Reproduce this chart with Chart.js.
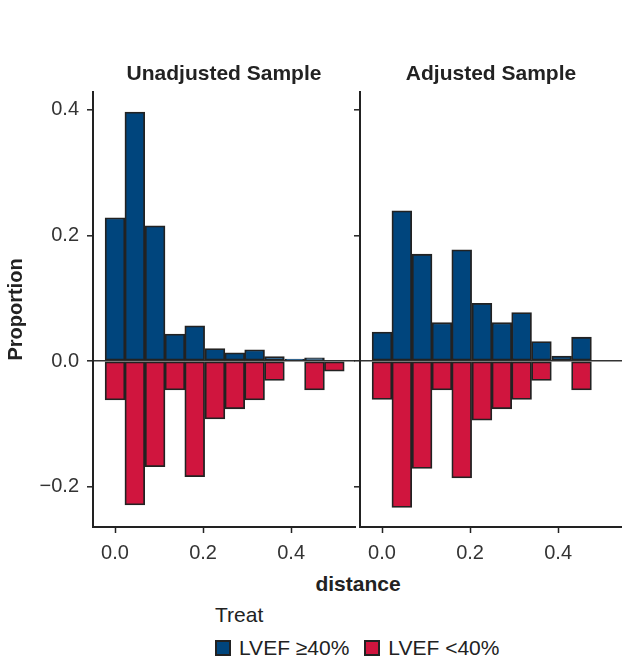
<!DOCTYPE html>
<html>
<head>
<meta charset="utf-8">
<script src="https://cdn.jsdelivr.net/npm/chart.js@4.4.1/dist/chart.umd.min.js"></script>
<style>
  html, body { margin: 0; padding: 0; background: #fff; }
  body { width: 622px; height: 659px; position: relative; overflow: hidden;
         font-family: "Liberation Sans", Arial, Helvetica, sans-serif; color: #222; }
  canvas { position: absolute; top: 0; }
  #c1 { left: 0; }
  #c2 { left: 350px; }
  .xtitle { position: absolute; left: 258px; width: 200px; top: 572px; text-align: center;
            font-weight: bold; font-size: 21px; color: #222; }
  .ltitle { position: absolute; left: 215px; top: 603px; font-size: 21px; color: #222; }
  .legend { position: absolute; left: 215px; top: 636px; font-size: 21px; color: #222;
            display: flex; align-items: center; white-space: nowrap; }
  .sw { display: inline-block; width: 16px; height: 16px; border: 2px solid #222; box-sizing: border-box; margin-right: 8px; }
  .item { display: flex; align-items: center; margin-right: 15px; }
</style>
</head>
<body>
<canvas id="c1" width="357" height="570"></canvas>
<canvas id="c2" width="272" height="570"></canvas>
<div class="xtitle">distance</div>
<div class="ltitle">Treat</div>
<div class="legend">
  <span class="item"><span class="sw" style="background:#00457D"></span>LVEF ≥40%</span>
  <span class="item"><span class="sw" style="background:#D0153E"></span>LVEF &lt;40%</span>
</div>
<script>
// ---- data ----
const panelTitles = ["Unadjusted Sample", "Adjusted Sample"];
const seriesNames = ["LVEF ≥40%", "LVEF <40%"];
const binCenters = [0.000, 0.045, 0.091, 0.136, 0.181, 0.227, 0.272, 0.317, 0.362, 0.408, 0.453, 0.498];

// Unadjusted sample
const unadjHigh = [0.228, 0.396, 0.215, 0.043, 0.056, 0.020, 0.013, 0.018, 0.007, 0.003, 0.005, 0.000];
const unadjLow  = [-0.062, -0.229, -0.168, -0.046, -0.184, -0.092, -0.076, -0.062, -0.031, 0.000, -0.046, -0.016];

// Adjusted sample
const adjHigh = [0.046, 0.239, 0.170, 0.061, 0.177, 0.092, 0.061, 0.077, 0.031, 0.008, 0.038];
const adjLow  = [-0.061, -0.233, -0.171, -0.046, -0.186, -0.094, -0.076, -0.061, -0.031, 0.000, -0.046];

const yTicks = [-0.2, 0.0, 0.2, 0.4];
const xTicks = [0.0, 0.2, 0.4];

// ---- styling ----
const BLUE = '#00457D', RED = '#D0153E', EDGE = '#222222', AXIS = '#222222', TXT = '#333333';
const FONT = "'Liberation Sans', Arial, Helvetica, sans-serif";
const X_MIN = -0.05, X_MAX = 0.545, Y_MIN = -0.264, Y_MAX = 0.428;

function pts(xs, ys) { return ys.map((v, i) => ({ x: xs[i], y: v })); }
function fmt(v) { return v.toFixed(1).replace('-', '\u2212'); }

function makeChart(id, title, hi, lo, showYLabels) {
  const ctx = document.getElementById(id);
  return new Chart(ctx, {
    type: 'bar',
    data: {
      datasets: [
        { label: seriesNames[0], data: pts(binCenters, hi), backgroundColor: BLUE, borderColor: EDGE,
          borderWidth: 1.8, borderSkipped: false, grouped: false, barPercentage: 1, categoryPercentage: 1 },
        { label: seriesNames[1], data: pts(binCenters, lo), backgroundColor: RED, borderColor: EDGE,
          borderWidth: 1.8, borderSkipped: false, grouped: false, barPercentage: 1, categoryPercentage: 1 }
      ]
    },
    options: {
      responsive: false,
      animation: false,
      devicePixelRatio: 1,
      layout: { padding: { left: 0, right: showYLabels ? 2 : 0, top: 0, bottom: 0 } },
      plugins: { legend: { display: false }, tooltip: { enabled: false }, title: { display: false } },
      scales: {
        x: {
          type: 'linear', position: 'bottom', min: X_MIN, max: X_MAX, offset: false,
          afterBuildTicks: (s) => { s.ticks = xTicks.map(v => ({ value: v })); },
          afterFit: (s) => { s.height = 43; },
          grid: { display: true, drawOnChartArea: false, drawTicks: true, tickLength: 6,
                  tickColor: AXIS, tickWidth: 1.5, offset: false },
          border: { display: true, color: AXIS, width: 2 },
          ticks: { color: TXT, font: { family: FONT, size: 20 }, padding: 8, maxRotation: 0,
                   callback: (v) => fmt(v) }
        },
        xTop: {
          type: 'linear', position: 'top', min: 0, max: 1,
          afterFit: (s) => { s.height = 92; },
          grid: { display: false }, border: { display: false },
          ticks: { display: false },
          title: { display: true, text: title, color: '#222', font: { family: FONT, size: 21, weight: 'bold' },
                   padding: { top: 62, bottom: 0 } }
        },
        y: {
          type: 'linear', position: 'left', min: Y_MIN, max: Y_MAX,
          afterBuildTicks: (s) => { s.ticks = yTicks.map(v => ({ value: v })); },
          afterFit: (s) => { s.width = showYLabels ? 93 : 10; },
          grid: { display: true, drawOnChartArea: true, drawTicks: true, tickLength: 6,
                  tickColor: AXIS, tickWidth: 1.5, lineWidth: 1.6,
                  color: (c) => (c.tick && Math.abs(c.tick.value) < 1e-9) ? '#333333' : 'rgba(0,0,0,0)' },
          border: { display: true, color: AXIS, width: 2 },
          ticks: { display: showYLabels, color: TXT, font: { family: FONT, size: 20 }, padding: 8,
                   callback: (v) => fmt(v) },
          title: { display: showYLabels, text: 'Proportion', color: '#222',
                   font: { family: FONT, size: 20, weight: 'bold' }, padding: { top: 4, bottom: 0 } }
        }
      }
    }
  });
}

makeChart('c1', panelTitles[0], unadjHigh, unadjLow, true);
makeChart('c2', panelTitles[1], adjHigh, adjLow, false);
</script>
</body>
</html>
